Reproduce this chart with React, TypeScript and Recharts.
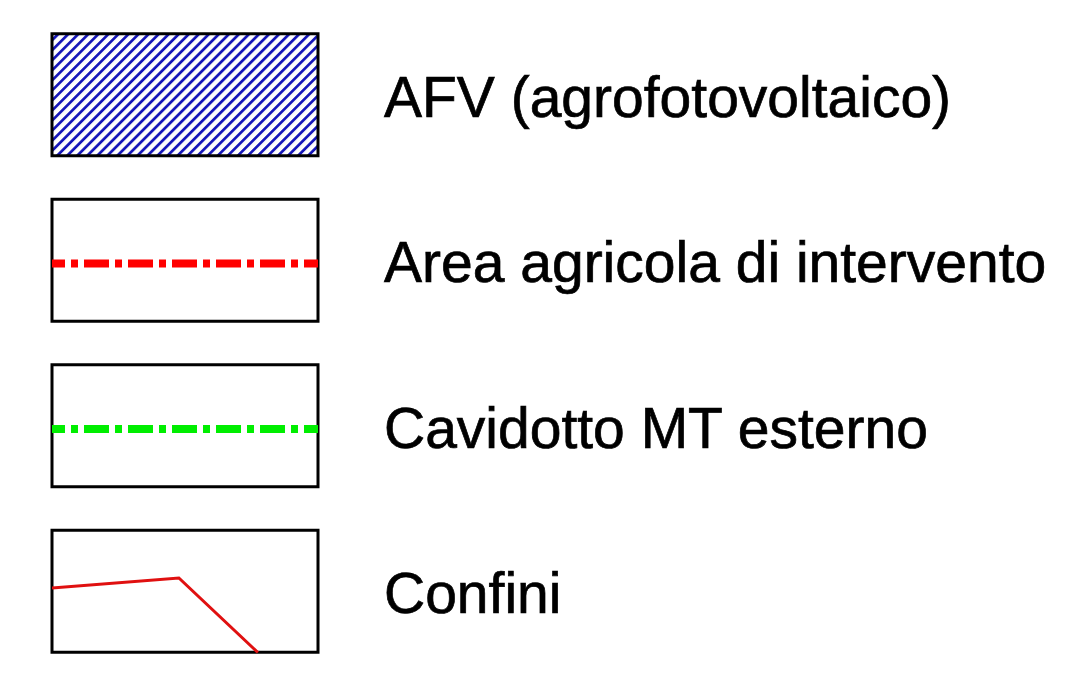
import React from "react";
import { ComposedChart, XAxis, YAxis, Line, ReferenceArea } from "recharts";

// Legend entries (one per row)
const labels = [
  "AFV (agrofotovoltaico)",
  "Area agricola di intervento",
  "Cavidotto MT esterno",
  "Confini",
];
const rows = [0, 1, 2, 3];
const swatchFills = ["url(#afvHatch)", "none", "none", "none"];

// Swatch lines (x in swatch units 0..10, y in row units)
const areaLine = [
  { x: 0, y: 1.02 },
  { x: 10, y: 1.02 },
];
const cavidottoLine = [
  { x: 0, y: 2.02 },
  { x: 10, y: 2.02 },
];
const confiniLine = [
  { x: 0, y: 2.98 },
  { x: 4.77, y: 2.92 },
  { x: 7.74, y: 3.37 },
];

const HALF = 0.369;
const FONT = "'Liberation Sans', Arial, Helvetica, sans-serif";

const LabelTick = (props: any) => {
  const { x, y, payload } = props;
  return (
    <text
      x={x + 66}
      y={y + 22}
      fontFamily={FONT}
      fontSize={57}
      fill="#000"
      stroke="#000"
      strokeWidth={0.7}
      textAnchor="start"
    >
      {labels[payload.value]}
    </text>
  );
};

export default function App() {
  return (
    <div style={{ position: "absolute", left: 0, top: 0, width: 1081, height: 675, background: "#fff" }}>
      <svg width={0} height={0} style={{ position: "absolute" }}>
        <defs>
          <pattern
            id="afvHatch"
            patternUnits="userSpaceOnUse"
            width={7.1}
            height={7.1}
            patternTransform="rotate(45)"
          >
            <rect x={0} y={0} width={7.1} height={7.1} fill="#ffffff" />
            <line x1={1.4} y1={0} x2={1.4} y2={7.1} stroke="#1414b8" strokeWidth={2.7} />
          </pattern>
        </defs>
      </svg>
      <ComposedChart
        width={1081}
        height={675}
        margin={{ top: 12, right: 0, bottom: 1, left: 52 }}
      >
        <XAxis type="number" dataKey="x" domain={[0, 10]} hide allowDataOverflow />
        <YAxis
          type="number"
          dataKey="y"
          domain={[-0.5, 3.5]}
          reversed
          orientation="right"
          width={763}
          ticks={rows}
          tick={<LabelTick />}
          tickLine={false}
          axisLine={false}
          tickSize={0}
          tickMargin={0}
          interval={0}
          allowDataOverflow
        />
        {rows.map((r) => (
          <ReferenceArea
            key={r}
            x1={0}
            x2={10}
            y1={r - HALF}
            y2={r + HALF}
            fill={swatchFills[r]}
            fillOpacity={1}
            stroke="#000"
            strokeWidth={3}
            ifOverflow="visible"
          />
        ))}
        <Line
          data={areaLine}
          dataKey="y"
          stroke="#ff0000"
          strokeWidth={8}
          strokeDasharray="25 6 7 6"
          strokeDashoffset={12}
          strokeLinecap="butt"
          dot={false}
          activeDot={false}
          isAnimationActive={false}
        />
        <Line
          data={cavidottoLine}
          dataKey="y"
          stroke="#00ee00"
          strokeWidth={8}
          strokeDasharray="25 6 7 6"
          strokeDashoffset={12}
          strokeLinecap="butt"
          dot={false}
          activeDot={false}
          isAnimationActive={false}
        />
        <Line
          data={confiniLine}
          dataKey="y"
          type="linear"
          stroke="#e01010"
          strokeWidth={3}
          dot={false}
          activeDot={false}
          isAnimationActive={false}
        />
      </ComposedChart>
    </div>
  );
}
